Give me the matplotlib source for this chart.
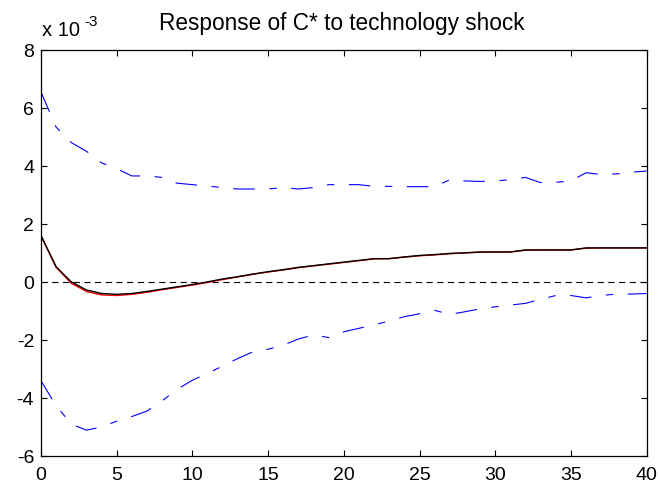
import matplotlib
matplotlib.use("Agg")
import matplotlib.pyplot as plt
import numpy as np

plt.rcParams['font.family'] = ['Liberation Sans', 'DejaVu Sans']
plt.rcParams['lines.scale_dashes'] = False

# Horizon (periods)
periods = list(range(0, 41))

# Values in units of 1e-3
median_resp = [1.60, 0.52, 0.00, -0.28, -0.40, -0.43, -0.40, -0.33, -0.25, -0.17,
               -0.09, 0.00, 0.10, 0.18, 0.27, 0.35, 0.42, 0.50, 0.56, 0.62,
               0.68, 0.74, 0.80, 0.80, 0.86, 0.91, 0.94, 0.98, 1.00, 1.03,
               1.03, 1.03, 1.10, 1.10, 1.10, 1.10, 1.17, 1.17, 1.17, 1.17, 1.17]
mean_resp = [1.58, 0.50, -0.05, -0.33, -0.45, -0.47, -0.43, -0.36, -0.27, -0.19,
             -0.11, -0.02, 0.08, 0.17, 0.26, 0.34, 0.41, 0.49, 0.55, 0.61,
             0.67, 0.73, 0.79, 0.80, 0.85, 0.90, 0.93, 0.97, 1.00, 1.02,
             1.03, 1.03, 1.09, 1.10, 1.10, 1.10, 1.16, 1.17, 1.17, 1.17, 1.17]
upper_band = [6.54, 5.33, 4.80, 4.50, 4.10, 3.90, 3.65, 3.65, 3.60, 3.40,
              3.35, 3.30, 3.25, 3.20, 3.20, 3.20, 3.25, 3.20, 3.25, 3.35,
              3.35, 3.35, 3.29, 3.29, 3.28, 3.28, 3.28, 3.52, 3.48, 3.46,
              3.48, 3.52, 3.60, 3.42, 3.43, 3.48, 3.76, 3.70, 3.72, 3.78, 3.82]
lower_band = [-3.41, -4.27, -4.90, -5.11, -5.00, -4.80, -4.64, -4.45, -4.10, -3.70,
              -3.39, -3.15, -2.90, -2.64, -2.41, -2.32, -2.18, -1.97, -1.83, -1.92,
              -1.72, -1.60, -1.48, -1.35, -1.20, -1.10, -0.98, -1.12, -1.03, -0.93,
              -0.86, -0.80, -0.74, -0.60, -0.47, -0.47, -0.55, -0.47, -0.42, -0.42, -0.40]

x_ticks = [0, 5, 10, 15, 20, 25, 30, 35, 40]
y_ticks = [-6, -4, -2, 0, 2, 4, 6, 8]
title_text = "Response of C* to technology shock"
scale = 1e-3

fig = plt.figure(figsize=(6.58, 4.89), dpi=100)
ax = fig.add_axes([41/658, 1 - 457/489, (646.6 - 41)/658, (457 - 50.7)/489])

t = np.array(periods)
s = lambda v: np.array(v) * scale

ax.axhline(0, color='black', lw=0.8, dashes=(4.5, 3.2))
ax.plot(t, s(upper_band), color=(0, 0, 1), lw=0.8, dashes=(15.5, 10.5, 5.3, 10.5))
ax.plot(t, s(lower_band), color=(0, 0, 1), lw=0.8, dashes=(15.5, 10.5, 5.3, 10.5))
ax.plot(t, s(mean_resp), color='red', lw=1.0)
ax.plot(t, s(median_resp), color='black', lw=1.0)

ax.set_xlim(0, 40)
ax.set_ylim(-6 * scale, 8 * scale)
ax.set_xticks(x_ticks)
ax.set_xticklabels([str(v) for v in x_ticks])
ax.set_yticks([v * scale for v in y_ticks])
ax.set_yticklabels([str(v) for v in y_ticks])
ax.tick_params(direction='in', length=4, width=0.8, top=True, right=True,
               labelsize=14, colors='black')
ax.tick_params(axis='x', pad=7)
ax.tick_params(axis='y', pad=5)
for sp in ax.spines.values():
    sp.set_linewidth(0.9)

fig.text(42/658, 1 - 35.7/489, "x 10", fontsize=14.5, ha='left', va='baseline')
fig.text(84/658, 1 - 25.7/489, "-3", fontsize=11, ha='left', va='baseline')
fig.text(342/658, 1 - 30/489, title_text, fontsize=16.3, ha='center', va='baseline')

fig.savefig("out.png", dpi=100, facecolor='white')
